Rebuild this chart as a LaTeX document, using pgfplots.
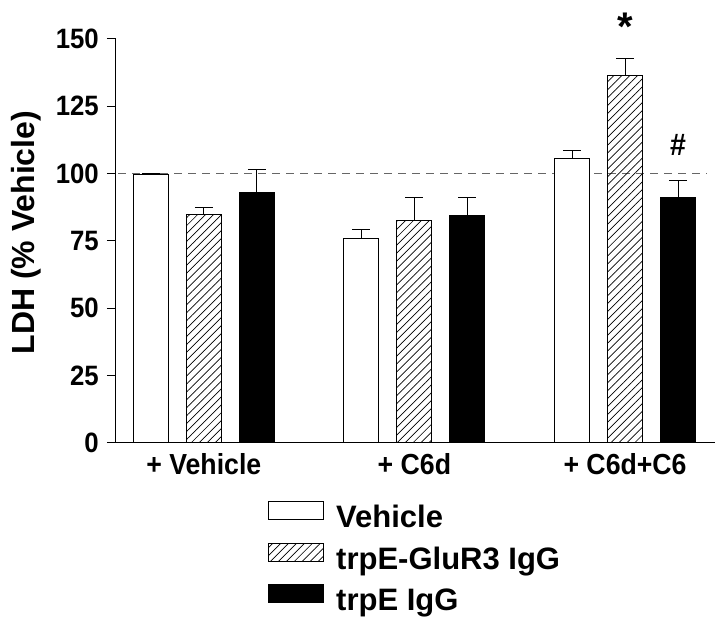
\documentclass[border=0pt]{standalone}
\usepackage{fontspec}
\setmainfont{Liberation Sans}
\newfontfamily\narrowsans{Liberation Sans}[FakeStretch=0.92]
\usepackage{pgfplots}
\pgfplotsset{compat=1.18}
\usetikzlibrary{patterns.meta}

\tikzset{hatch/.style={pattern={Lines[angle=45,distance=5.6pt,line width=0.7pt]}}}
\pgfplotsset{boxlegend/.style={legend image code/.code={\draw[##1] (0pt,0pt) rectangle (55pt,18pt);}}}

\begin{document}
\begin{tikzpicture}[font=\bfseries]
\begin{axis}[
  scale only axis, width=599pt, height=404pt,
  xmin=0.5833, xmax=3.427, ymin=0, ymax=150,
  axis x line=bottom, axis y line=left,
  axis line style={-, line width=1pt},
  ytick={0,25,50,75,100,125,150}, xtick={1,2,3},
  xticklabels={+ Vehicle, + C6d, + C6d+C6},
  tick align=outside, major tick length=9pt,
  x tick style={draw=none},
  y tick style={line width=1pt, black},
  /pgf/number format/assume math mode=true,
  yticklabel style={font=\narrowsans\fontsize{28}{30}\selectfont\bfseries, inner sep=0pt, xshift=-8pt},
  xticklabel style={font=\narrowsans\fontsize{29}{31}\selectfont\bfseries, anchor=base, inner sep=0pt, yshift=-22.6pt},
  ybar, bar width=0.166,
  clip=false,
  legend cell align=left,
  legend style={at={(axis description cs:0.2538,-0.144)}, anchor=north west,
    draw=none, fill=none, inner sep=0pt, row sep=8pt,
    font=\fontsize{31}{33}\selectfont\bfseries,
    nodes={inner sep=0pt, text height=23pt, text depth=7pt},
    /tikz/every odd column/.append style={column sep=12pt}},
  error bars/y dir=plus, error bars/y explicit,
  error bars/error mark=|,
  error bars/error mark options={black, line width=1pt, mark size=9pt},
  error bars/error bar style={black, line width=1pt},
]
% reference line at 100 %
\addplot[forget plot, sharp plot, black!60, line width=0.8pt, dash pattern=on 8pt off 6pt]
  coordinates {(0.5928,100) (3.389,100)};

\addplot[draw=black, fill=white, line width=1pt, bar shift=-0.2515, boxlegend]
  coordinates {(1,99.5) +- (0,0.3) (2,76.0) +- (0,3.0) (3,105.6) +- (0,3.0)};
\addlegendentry{Vehicle}

\addplot[draw=black, hatch, line width=1pt, bar shift=0, boxlegend]
  coordinates {(1,84.9) +- (0,2.6) (2,82.4) +- (0,8.5) (3,136.2) +- (0,6.5)};
\addlegendentry{trpE-GluR3 IgG}

\addplot[draw=black, fill=black, line width=1pt, bar shift=0.2515, boxlegend]
  coordinates {(1,92.8) +- (0,8.7) (2,84.2) +- (0,6.7) (3,91.0) +- (0,6.5)};
\addlegendentry{trpE IgG}

\node[font=\fontsize{40}{40}\selectfont\bfseries, anchor=base] at (axis cs:3,149.5) {*};
\node[font=\narrowsans\fontsize{31}{33}\selectfont\bfseries, anchor=base] at (axis cs:3.2515,106.8) {\#};
\end{axis}
\node[rotate=90, anchor=base, font=\fontsize{32}{34}\selectfont\bfseries] at (-81pt,210pt) {LDH (\% Vehicle)};
\pgfresetboundingbox
\useasboundingbox (-116pt,-191.3pt) rectangle (604pt,442.7pt);
\end{tikzpicture}
\end{document}
